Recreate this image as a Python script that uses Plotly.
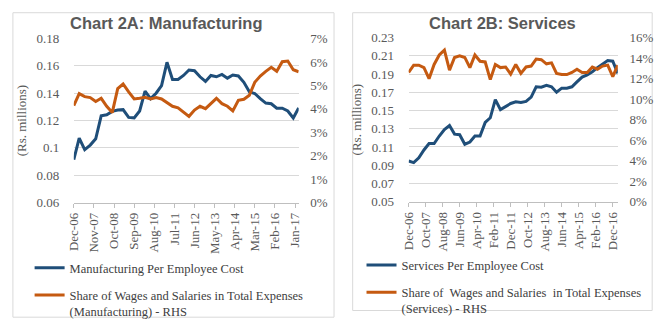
import pandas as pd
import plotly.graph_objects as go

# ---------------- data ----------------
quarters = pd.date_range("2006-12-01", "2017-03-01", freq="3MS")

mfg_cost = [0.0914, 0.1072, 0.0988, 0.1021, 0.1067, 0.1235, 0.1242, 0.1267, 0.1277, 0.1280,
            0.1223, 0.1220, 0.1270, 0.1416, 0.1360, 0.1400, 0.1456, 0.1626, 0.1500, 0.1500,
            0.1530, 0.1570, 0.1565, 0.1520, 0.1486, 0.1530, 0.1520, 0.1537, 0.1510, 0.1533,
            0.1526, 0.1480, 0.1410, 0.1398, 0.1360, 0.1328, 0.1323, 0.1290, 0.1290, 0.1270,
            0.1219, 0.1293]
mfg_share = [4.14, 4.65, 4.52, 4.48, 4.31, 4.45, 4.11, 3.84, 4.86, 5.06,
             4.72, 4.42, 4.45, 4.49, 4.42, 4.48, 4.42, 4.27, 4.11, 4.04,
             3.84, 3.68, 3.95, 4.11, 4.01, 4.22, 4.45, 4.22, 4.11, 3.91,
             4.36, 4.41, 4.58, 5.13, 5.40, 5.60, 5.77, 5.60, 6.01, 6.04,
             5.67, 5.58]

srv_cost = [0.0946, 0.0929, 0.0981, 0.1067, 0.1137, 0.1137, 0.1220, 0.1290, 0.1335, 0.1241,
            0.1234, 0.1130, 0.1154, 0.1220, 0.1220, 0.1370, 0.1420, 0.1620, 0.1510, 0.1540,
            0.1577, 0.1595, 0.1588, 0.1600, 0.1647, 0.1760, 0.1755, 0.1775, 0.1760, 0.1700,
            0.1745, 0.1745, 0.1760, 0.1813, 0.1866, 0.1890, 0.1925, 0.1970, 0.2012, 0.2047,
            0.2040, 0.1907]
srv_share = [12.60, 13.31, 13.31, 13.07, 11.99, 13.38, 14.30, 14.77, 12.82, 14.06,
             14.21, 14.06, 13.07, 14.30, 13.69, 13.62, 11.90, 13.38, 13.07, 13.13,
             12.44, 13.38, 12.51, 13.13, 13.22, 13.90, 13.84, 13.44, 13.53, 12.51,
             12.39, 12.39, 12.60, 12.91, 12.60, 12.60, 13.13, 12.91, 13.22, 13.31,
             12.20, 13.31]

mfg_xticks = ["Dec-06", "Nov-07", "Oct-08", "Sep-09", "Aug-10", "Jul-11",
              "Jun-12", "May-13", "Apr-14", "Mar-15", "Feb-16", "Jan-17"]
srv_xticks = ["Dec-06", "Oct-07", "Aug-08", "Jun-09", "Apr-10", "Feb-11", "Dec-11",
              "Oct-12", "Aug-13", "Jun-14", "Apr-15", "Feb-16", "Dec-16"]

mfg_yticks = [0.06, 0.08, 0.10, 0.12, 0.14, 0.16, 0.18]
mfg_ytext = ["0.06", "0.08", "0.1", "0.12", "0.14", "0.16", "0.18"]
srv_yticks = [0.05, 0.07, 0.09, 0.11, 0.13, 0.15, 0.17, 0.19, 0.21, 0.23]
srv_ytext = ["0.05", "0.07", "0.09", "0.11", "0.13", "0.15", "0.17", "0.19", "0.21", "0.23"]

# ---------------- style ----------------
W, H = 666, 329
BLUE = "#1F4E79"
ORANGE = "#C55A11"
GRID = "#D9D9D9"
TXT = "#595959"
SERIF = "Liberation Serif"
SANS = "Liberation Sans"


def px(x):
    return x / W


def py(y):
    return 1 - y / H


mfg_tickdates = pd.to_datetime(mfg_xticks, format="%b-%y")
srv_tickdates = pd.to_datetime(srv_xticks, format="%b-%y")

fig = go.Figure()

fig.add_trace(go.Scatter(x=quarters, y=mfg_cost, mode="lines", name="Manufacturing Per Employee Cost",
                         line=dict(color=BLUE, width=3), xaxis="x", yaxis="y", legend="legend",
                         legendgroup="a"))
fig.add_trace(go.Scatter(x=quarters, y=[v / 100 for v in mfg_share], mode="lines",
                         name="Share of Wages and Salaries in Total Expenses<br>(Manufacturing) - RHS",
                         line=dict(color=ORANGE, width=3), xaxis="x", yaxis="y2", legend="legend",
                         legendgroup="b"))
fig.add_trace(go.Scatter(x=quarters, y=srv_cost, mode="lines", name="Services Per Employee Cost",
                         line=dict(color=BLUE, width=3), xaxis="x2", yaxis="y3", legend="legend2",
                         legendgroup="c"))
fig.add_trace(go.Scatter(x=quarters, y=[v / 100 for v in srv_share], mode="lines",
                         name="Share of  Wages and Salaries  in Total Expenses<br>(Services) - RHS",
                         line=dict(color=ORANGE, width=3), xaxis="x2", yaxis="y4", legend="legend2",
                         legendgroup="d"))

tickfont = dict(family=SERIF, size=13, color=TXT)

xcommon = dict(type="date", tickangle=-90, tickfont=tickfont, showgrid=False, zeroline=False,
               showline=True, linecolor="#BFBFBF", linewidth=1, ticks="outside", ticklen=4,
               tickcolor="#BFBFBF", fixedrange=True)

ycommon_left = dict(tickfont=tickfont, showgrid=True, gridcolor=GRID, gridwidth=1, zeroline=False,
                    ticks="outside", ticklen=11, tickcolor="rgba(0,0,0,0)")
ycommon_right = dict(tickfont=tickfont, showgrid=False, zeroline=False,
                     ticks="outside", ticklen=8, tickcolor="rgba(0,0,0,0)")

legfont = dict(family=SERIF, size=12.5, color="#404040")
ytitle = dict(text="(Rs. millions)", font=dict(family=SERIF, size=13, color=TXT), standoff=6)

fig.update_layout(
    width=W, height=H,
    margin=dict(l=0, r=0, t=0, b=0),
    paper_bgcolor="white", plot_bgcolor="white",
    xaxis=dict(domain=[px(67), px(296)], anchor="y",
               range=[quarters[0], quarters[-1]],
               tickvals=mfg_tickdates, ticktext=mfg_xticks, **xcommon),
    yaxis=dict(domain=[py(205), py(33)], anchor="x", range=[0.06, 0.18],
               tickvals=mfg_yticks, ticktext=mfg_ytext, title=ytitle, **ycommon_left),
    yaxis2=dict(overlaying="y", side="right", anchor="x", range=[0, 0.07], dtick=0.01,
                tickformat=".0%", **ycommon_right),
    xaxis2=dict(domain=[px(408), px(621)], anchor="y3",
                range=[quarters[0], quarters[-1]],
                tickvals=srv_tickdates, ticktext=srv_xticks, **xcommon),
    yaxis3=dict(domain=[py(204), py(32)], anchor="x2", range=[0.05, 0.23],
                tickvals=srv_yticks, ticktext=srv_ytext, title=ytitle, **ycommon_left),
    yaxis4=dict(overlaying="y3", side="right", anchor="x2", range=[0, 0.16], dtick=0.02,
                tickformat=".0%", **ycommon_right),
    legend=dict(x=px(22), y=py(258), xanchor="left", yanchor="top", valign="top",
                font=legfont, tracegroupgap=8,
                bgcolor="rgba(0,0,0,0)", itemwidth=30),
    legend2=dict(x=px(360), y=py(255), xanchor="left", yanchor="top", valign="top",
                 font=legfont, tracegroupgap=8,
                 bgcolor="rgba(0,0,0,0)", itemwidth=30),
    showlegend=True,
    shapes=[
        dict(type="rect", xref="paper", yref="paper", x0=px(5), x1=px(332), y0=py(325), y1=py(6),
             line=dict(color=GRID, width=1), layer="below"),
        dict(type="rect", xref="paper", yref="paper", x0=px(351), x1=px(656), y0=py(318), y1=py(6),
             line=dict(color=GRID, width=1), layer="below"),
    ],
    annotations=[
        dict(text="<b>Chart 2A: Manufacturing</b>", xref="paper", yref="paper", x=px(161), y=py(17),
             xanchor="center", yanchor="middle", showarrow=False,
             font=dict(family=SANS, size=16.5, color=TXT)),
        dict(text="<b>Chart 2B: Services</b>", xref="paper", yref="paper", x=px(504), y=py(17),
             xanchor="center", yanchor="middle", showarrow=False,
             font=dict(family=SANS, size=16.5, color=TXT)),
    ],
)

fig.write_html("out.html")
